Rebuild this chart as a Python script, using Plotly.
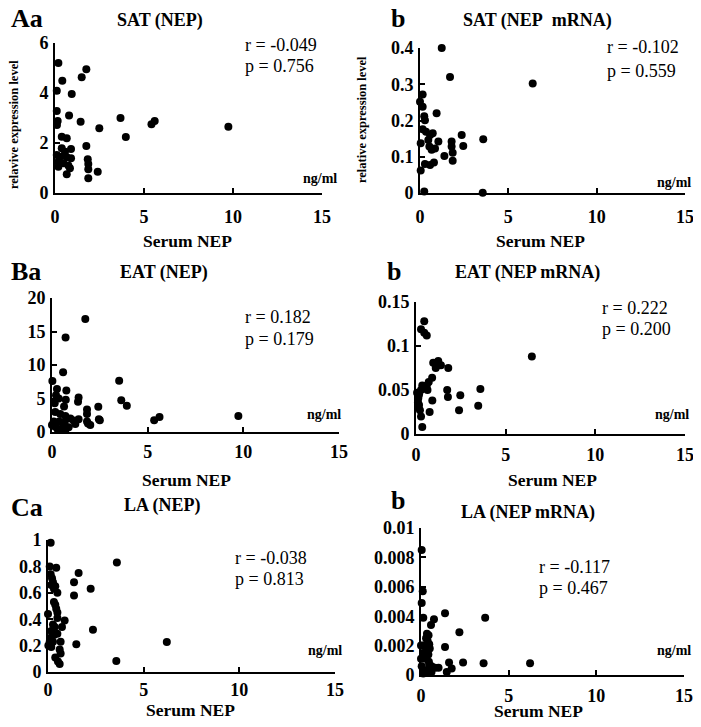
import plotly.graph_objects as go

# ---- data (Serum NEP, ng/ml vs relative expression level) ----
sat_nep_x = [0.19, 1.76, 1.5, 0.41, 0.1, 0.94, 0.1, 0.79, 0.15, 0.11, 1.44, 2.49, 3.68, 3.98,
             5.42, 5.6, 9.74, 0.38, 0.66, 0.38, 0.9, 1.76, 0.1, 0.28, 0.66, 0.9, 0.19, 0.47,
             1.84, 1.87, 0.19, 0.84, 0.66, 1.87, 2.4, 1.87, 0.56, 0.75]
sat_nep_y = [5.2, 4.95, 4.63, 4.49, 4.09, 3.96, 3.28, 3.1, 2.88, 2.72, 2.85, 2.59, 3.0, 2.24,
             2.75, 2.88, 2.65, 2.25, 2.19, 1.79, 1.76, 1.88, 1.52, 1.45, 1.43, 1.39, 1.25, 1.19,
             1.35, 1.16, 1.05, 0.99, 0.75, 0.95, 0.85, 0.59, 1.65, 1.1]

sat_mrna_x = [1.23, 1.7, 6.38, 0.15, 0.0, 0.15, 0.24, 0.28, 0.94, 0.15, 0.34, 0.57, 0.72, 0.04,
              0.47, 0.53, 1.04, 0.66, 0.85, 1.79, 1.79, 1.85, 2.36, 2.45, 1.85, 1.38, 0.28,
              0.57, 0.79, 0.04, 0.24, 3.55, 3.58]
sat_mrna_y = [0.4, 0.32, 0.302, 0.272, 0.252, 0.238, 0.212, 0.201, 0.22, 0.176, 0.169, 0.16,
              0.165, 0.137, 0.146, 0.128, 0.142, 0.119, 0.123, 0.142, 0.128, 0.111, 0.16, 0.13,
              0.089, 0.102, 0.08, 0.077, 0.084, 0.062, 0.004, 0.001, 0.148]

eat_nep_x = [1.74, 0.71, 0.58, 0.02, 3.51, 3.62, 3.91, 5.34, 5.62, 9.74, 0.26, 0.75, 0.35, 0.21,
             1.39, 1.36, 0.72, 1.83, 2.42, 2.45, 1.83, 0.63, 0.14, 0.17, 0.43, 0.7, 0.96, 0.09,
             0.38, 0.66, 1.13, 1.39, 1.83, 2.0, 0.17, 0.52, 0.87, 1.22, 0.0, 0.31, 0.7, 2.5, 1.88]
eat_nep_y = [16.85, 14.1, 8.9, 7.6, 7.65, 4.75, 3.9, 1.75, 2.25, 2.4, 6.4, 6.2, 5.0, 5.5,
             5.15, 4.5, 4.8, 3.35, 3.75, 1.9, 2.7, 3.8, 4.3, 3.0, 2.7, 2.4, 2.0, 1.55,
             1.55, 1.4, 1.7, 1.9, 1.55, 1.05, 0.8, 0.55, 0.7, 1.2, 1.05, 0.3, 0.3, 1.75, 1.25]

eat_mrna_x = [0.46, 0.28, 0.46, 0.6, 6.46, 0.96, 1.24, 1.39, 1.8, 1.1, 0.9, 0.71, 0.6, 0.35,
              0.28, 0.17, 0.13, 0.64, 1.74, 1.78, 3.59, 2.47, 2.4, 3.47, 0.91, 0.76, 0.17,
              0.22, 0.28, 0.35, 0.11, 0.13, 0.06]
eat_mrna_y = [0.128, 0.119, 0.115, 0.112, 0.088, 0.081, 0.083, 0.078, 0.075, 0.075, 0.064,
              0.059, 0.055, 0.055, 0.05, 0.045, 0.041, 0.05, 0.05, 0.042, 0.051, 0.044, 0.027,
              0.032, 0.038, 0.025, 0.033, 0.027, 0.02, 0.008, 0.036, 0.03, 0.047]

la_nep_x = [0.14, 0.09, 0.43, 0.14, 0.21, 0.26, 0.17, 0.38, 0.31, 0.49, 1.6, 1.36, 2.23, 1.36,
            0.31, 0.38, 0.43, 0.49, 0.0, 0.49, 0.87, 0.26, 0.35, 0.73, 0.49, 0.17, 0.31, 0.14,
            0.09, 0.26, 0.17, 2.35, 0.66, 0.61, 0.66, 1.48, 0.38, 0.52, 0.61, 0.02, 3.6, 6.21, 3.57]
la_nep_y = [0.98, 0.8, 0.79, 0.74, 0.71, 0.68, 0.66, 0.65, 0.63, 0.6, 0.75, 0.68, 0.63, 0.58,
            0.53, 0.51, 0.48, 0.45, 0.44, 0.41, 0.39, 0.36, 0.34, 0.34, 0.29, 0.31, 0.28, 0.26,
            0.23, 0.23, 0.19, 0.32, 0.23, 0.17, 0.14, 0.21, 0.11, 0.08, 0.06, 0.2, 0.83, 0.228, 0.084]

la_mrna_x = [0.04, 0.1, 0.04, 0.13, 0.74, 1.37, 2.19, 0.57, 0.34, 0.29, 0.38, 0.43, 0.47, 0.0,
             0.13, 1.37, 0.13, 0.32, 0.42, 0.0, 0.25, 0.47, 0.6, 0.8, 1.0, 1.6, 2.4, 0.04,
             0.25, 0.13, 0.34, 1.75, 1.47, 0.6, 3.57, 6.22, 3.66, 0.5, 0.45]
la_mrna_y = [0.0085, 0.0057, 0.0049, 0.0039, 0.0038, 0.0042, 0.0029, 0.0034, 0.0028, 0.0025,
             0.0023, 0.0027, 0.0021, 0.002, 0.002, 0.0019, 0.0015, 0.0017, 0.0014, 0.0011,
             0.0011, 0.0007, 0.0006, 0.0005, 0.0005, 0.00085, 0.00085, 0.0006, 0.0003, 0.0001,
             0.0002, 0.00045, 0.0002, 0.0002, 0.0008, 0.0008, 0.0039, 0.0018, 0.0009]

x_ticks = [0, 5, 10, 15]

# y tick values / labels per panel
yt_sat_nep = [0, 2, 4, 6]
yt_sat_mrna = [0, 0.1, 0.2, 0.3, 0.4]
yl_sat_mrna = ["0", "0.1", "0.2", "0.3", "0.4"]
yt_eat_nep = [0, 5, 10, 15, 20]
yt_eat_mrna = [0, 0.05, 0.1, 0.15]
yl_eat_mrna = ["0", "0.05", "0.1", "0.15"]
yt_la_nep = [0, 0.2, 0.4, 0.6, 0.8, 1]
yl_la_nep = ["0", "0.2", "0.4", "0.6", "0.8", "1"]
yt_la_mrna = [0, 0.002, 0.004, 0.006, 0.008, 0.01]
yl_la_mrna = ["0", "0.002", "0.004", "0.006", "0.008", "0.01"]

titles = ["SAT (NEP)", "SAT (NEP\u00a0 mRNA)", "EAT (NEP)", "EAT (NEP mRNA)", "LA (NEP)", "LA (NEP mRNA)"]
letters = ["Aa", "b", "Ba", "b", "Ca", "b"]
r_text = ["r = -0.049", "r = -0.102", "r = 0.182", "r = 0.222", "r = -0.038", "r = -0.117"]
p_text = ["p = 0.756", "p = 0.559", "p = 0.179", "p = 0.200", "p = 0.813", "p = 0.467"]

# page body keeps its 8px margin: shrink the figure so the page never scrolls,
# and shift screen positions by OFF before turning them into paper fractions
OFF = 8
W, H = 701 - 2 * OFF, 727 - 2 * OFF
SERIF = "Liberation Serif, Times New Roman, serif"


def px(x):
    return (x - OFF) / W


def py(y):
    return 1 - (y - OFF) / H


panels = [
    # box = axis frame in screen pixels (x0, x1, ytop, ybottom); other entries are text positions
    dict(x=sat_nep_x, y=sat_nep_y, tv=yt_sat_nep, tt=[str(v) for v in yt_sat_nep], ymax=6,
         box=(55, 322, 43, 193), title=(160, 21), letter=(9, 18), rp=(243, 45, 66), unit=(339, 178),
         xt=(187, 241), stand=6),
    dict(x=sat_mrna_x, y=sat_mrna_y, tv=yt_sat_mrna, tt=yl_sat_mrna, ymax=0.4,
         box=(420, 685, 48, 193), title=(537, 21), letter=(389, 18), rp=(605, 47, 71), unit=(693, 182),
         xt=(540, 241), stand=6),
    dict(x=eat_nep_x, y=eat_nep_y, tv=yt_eat_nep, tt=[str(v) for v in yt_eat_nep], ymax=20,
         box=(52, 339, 298, 432), title=(164, 272), letter=(9, 271), rp=(243, 317, 339), unit=(343, 414),
         xt=(186, 480), stand=2),
    dict(x=eat_mrna_x, y=eat_mrna_y, tv=yt_eat_mrna, tt=yl_eat_mrna, ymax=0.15,
         box=(416, 685, 302, 434), title=(527, 272), letter=(385, 271), rp=(600, 308, 329), unit=(691, 414),
         xt=(552, 480), stand=3),
    dict(x=la_nep_x, y=la_nep_y, tv=yt_la_nep, tt=yl_la_nep, ymax=1,
         box=(48, 335, 540, 672), title=(162, 505), letter=(9, 507), rp=(233, 558, 579), unit=(344, 650),
         xt=(190, 710), stand=0),
    dict(x=la_mrna_x, y=la_mrna_y, tv=yt_la_mrna, tt=yl_la_mrna, ymax=0.01,
         box=(421, 684, 528, 675), title=(528, 513), letter=(389, 500), rp=(537, 567, 588), unit=(693, 650),
         xt=(538, 711), stand=3),
]

fig = go.Figure()
annotations = []
layout = {}

for i, p in enumerate(panels):
    n = "" if i == 0 else str(i + 1)
    fig.add_trace(go.Scatter(
        x=p["x"], y=p["y"], mode="markers", xaxis="x" + n, yaxis="y" + n,
        marker=dict(color="black", size=8), cliponaxis=False, showlegend=False,
    ))
    x0, x1, yt, yb = p["box"]
    layout["xaxis" + n] = dict(
        domain=[px(x0), px(x1)], range=[0, 15], anchor="y" + n, automargin=False,
        tickvals=x_ticks, ticks="inside", ticklen=5, tickwidth=2, tickcolor="black",
        showline=True, linecolor="black", linewidth=2, showgrid=False, zeroline=False,
        tickfont=dict(family=SERIF, size=18, color="black", weight="bold"),
        ticklabelstandoff=p["stand"], ticklabeloverflow="allow",
    )
    layout["yaxis" + n] = dict(
        domain=[py(yb), py(yt)], range=[0, p["ymax"]], anchor="x" + n, automargin=False,
        tickvals=p["tv"], ticktext=p["tt"], ticks="inside", ticklen=5, tickwidth=2, tickcolor="black",
        showline=True, linecolor="black", linewidth=2, showgrid=False, zeroline=False,
        tickfont=dict(family=SERIF, size=18, color="black", weight="bold"),
        ticklabelstandoff=1, ticklabeloverflow="allow",
    )
    tx, ty = p["title"]
    annotations.append(dict(x=px(tx), y=py(ty), text="<b>%s</b>" % titles[i], showarrow=False,
                            xref="paper", yref="paper", xanchor="center", yanchor="middle",
                            font=dict(family=SERIF, size=18, color="black")))
    lx, ly = p["letter"]
    annotations.append(dict(x=px(lx), y=py(ly), text="<b>%s</b>" % letters[i], showarrow=False,
                            xref="paper", yref="paper", xanchor="left", yanchor="middle",
                            font=dict(family=SERIF, size=26, color="black")))
    rx, ry, pyy = p["rp"]
    annotations.append(dict(x=px(rx), y=py(ry), text=r_text[i], showarrow=False,
                            xref="paper", yref="paper", xanchor="left", yanchor="middle",
                            font=dict(family=SERIF, size=18, color="black")))
    annotations.append(dict(x=px(rx), y=py(pyy), text=p_text[i], showarrow=False,
                            xref="paper", yref="paper", xanchor="left", yanchor="middle",
                            font=dict(family=SERIF, size=18, color="black")))
    ux, uy = p["unit"]
    annotations.append(dict(x=px(ux), y=py(uy), text="<b>ng/ml</b>", showarrow=False,
                            xref="paper", yref="paper", xanchor="right", yanchor="middle",
                            font=dict(family=SERIF, size=14, color="black")))
    sx, sy = p["xt"]
    annotations.append(dict(x=px(sx), y=py(sy), text="<b>Serum NEP</b>", showarrow=False,
                            xref="paper", yref="paper", xanchor="center", yanchor="middle",
                            font=dict(family=SERIF, size=17.5, color="black")))

# y axis titles only on the top row
annotations.append(dict(x=px(14), y=py(125), text="<b>relavive expression level</b>", showarrow=False,
                        xref="paper", yref="paper", textangle=-90, xanchor="center", yanchor="middle",
                        font=dict(family=SERIF, size=12.5, color="black")))
annotations.append(dict(x=px(362), y=py(120), text="<b>relative expression level</b>", showarrow=False,
                        xref="paper", yref="paper", textangle=-90, xanchor="center", yanchor="middle",
                        font=dict(family=SERIF, size=12.5, color="black")))

fig.update_layout(
    width=W, height=H, margin=dict(l=0, r=0, t=0, b=0, pad=0, autoexpand=False),
    paper_bgcolor="white", plot_bgcolor="white",
    annotations=annotations, **layout,
)

fig.write_html("out.html")
